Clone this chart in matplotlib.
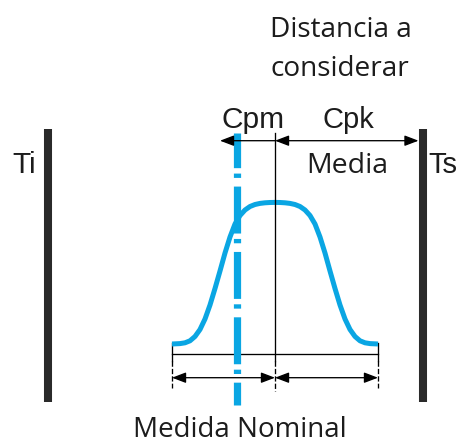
import matplotlib
matplotlib.use("Agg")
import matplotlib.pyplot as plt

# Diagram laid out in pixel units (x right, y down)
W, H = 459, 443

TOL_X = [47.5, 422.5]            # Ti / Ts limit bars
TOL_LABELS = ["Ti", "Ts"]
BAR_TOP, BAR_BOTTOM = 129, 402

MEAN_X = 275                     # process mean
NOMINAL_X = 236.5                # nominal dimension (dash-dot)
SPREAD_X = [172, 378]            # ends of the distribution

# Distribution outline
CURVE_X = [172, 180, 185, 190, 195, 200, 205, 210, 215, 220, 225, 230,
           235, 240, 245, 250, 255, 260, 265, 270, 275, 280, 285, 290,
           295, 300, 305, 310, 315, 320, 325, 330, 335, 340, 345, 350,
           355, 360, 365, 370, 378]
CURVE_Y = [344, 343.6, 342.8, 340.8, 336.5, 329.5, 319, 305, 288.5, 271,
           253, 237, 224, 215.5, 210, 206.5, 204.5, 203.4, 202.8, 202.5,
           202.4, 202.5, 202.8, 203.4, 204.5, 206.5, 210, 215.5, 224, 237,
           253, 271, 288.5, 305, 319, 329.5, 336.5, 340.8, 342.8, 343.6,
           344]

BLUE = "#0aa6e3"
DARK = "#2a2a2a"
INK = "#1c1c1c"
SEGOE_LIKE = ["Open Sans", "DejaVu Sans"]
ARIAL_LIKE = ["Liberation Sans", "DejaVu Sans"]

fig = plt.figure(figsize=(W / 100, H / 100), dpi=100)
ax = fig.add_axes([0, 0, 1, 1])
ax.set_xlim(0, W)
ax.set_ylim(H, 0)
ax.axis("off")

# tolerance limits
for x in TOL_X:
    ax.plot([x, x], [BAR_TOP, BAR_BOTTOM], color=DARK, lw=5.8,
            solid_capstyle="butt")

# distribution
ax.plot(CURVE_X, CURVE_Y, color=BLUE, lw=3.6, solid_joinstyle="round",
        solid_capstyle="butt", zorder=3)

# nominal dimension, dash-dot
ax.plot([NOMINAL_X, NOMINAL_X], [133, 405], color=BLUE, lw=5.2,
        linestyle=(1.7, (6.5, 0.75, 0.6, 1.2)), dash_capstyle="butt",
        zorder=4)

# mean line and extension ticks
ax.plot([MEAN_X, MEAN_X], [133, 361], color="black", lw=0.95, zorder=5)
ax.plot([MEAN_X, MEAN_X], [361, 391], color="black", lw=0.95,
        dashes=(4, 1.6), zorder=5)
for x in SPREAD_X:
    ax.plot([x, x], [343, 361], color="black", lw=0.95)
    ax.plot([x, x], [361, 388], color="black", lw=0.95, dashes=(4, 1.6))
ax.plot(SPREAD_X, [354, 354], color="black", lw=0.95)


def dim_arrow(x0, x1, y, style="<|-|>"):
    ax.annotate("", xy=(x1, y), xytext=(x0, y),
                arrowprops=dict(arrowstyle=style + ",head_length=0.42,head_width=0.16",
                                mutation_scale=20, shrinkA=0, shrinkB=0,
                                lw=0.95, color="black"), zorder=5)


# Cpm / Cpk distances
dim_arrow(MEAN_X, 220, 140.7, "-|>")
dim_arrow(MEAN_X, TOL_X[1] - 4, 140.7)
# half spreads
dim_arrow(SPREAD_X[0], MEAN_X, 377.7)
dim_arrow(MEAN_X, SPREAD_X[1], 377.7)

# labels
ax.text(12, 173, TOL_LABELS[0], family=ARIAL_LIKE, fontsize=21.5,
        color=INK, va="baseline", ha="left")
ax.text(428, 173, TOL_LABELS[1], family=ARIAL_LIKE, fontsize=21,
        color=INK, va="baseline", ha="left")
ax.text(253.5, 128, "Cpm", family=ARIAL_LIKE, fontsize=21.5,
        color=INK, va="baseline", ha="center")
ax.text(348, 128, "Cpk", family=ARIAL_LIKE, fontsize=21,
        color=INK, va="baseline", ha="center")
ax.text(347, 173, "Media", family=SEGOE_LIKE, fontsize=20.5,
        color=INK, va="baseline", ha="center")
ax.text(270, 37, "Distancia a", family=SEGOE_LIKE, fontsize=20.2,
        color=INK, va="baseline", ha="left")
ax.text(270, 76, "considerar", family=SEGOE_LIKE, fontsize=20.2,
        color=INK, va="baseline", ha="left")
ax.text(240, 437, "Medida Nominal", family=SEGOE_LIKE, fontsize=20,
        color=INK, va="baseline", ha="center")

fig.savefig("out.png", dpi=100)
